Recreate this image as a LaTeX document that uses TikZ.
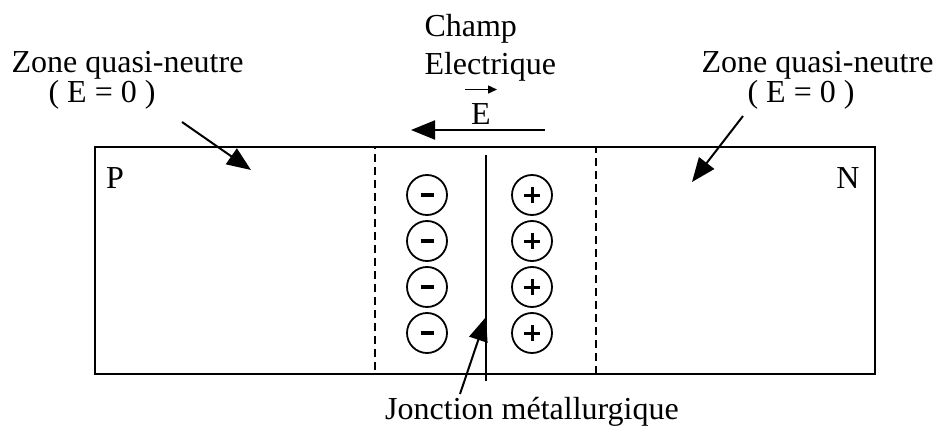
\documentclass[tikz,border=0pt]{standalone}
\usepackage{fontspec}
\setmainfont{Liberation Serif}
\usetikzlibrary{arrows.meta,positioning}

\begin{document}
\begin{tikzpicture}[x=1pt,y=-1pt,
		every node/.style={font=\fontsize{32}{38}\selectfont},
		zone/.style={draw,line width=2pt,minimum width=780pt,minimum height=227pt,inner sep=0pt},
		zce/.style={draw,line width=1.8pt,dash pattern=on 8pt off 5pt,minimum width=221pt,minimum height=227pt,inner sep=0pt},
		charge/.style={draw,circle,line width=1.8pt,minimum size=40pt,inner sep=0pt},
		signe/.style={line width=3pt},
		fleche/.style={-{Triangle[length=24pt,width=19pt]},line width=2pt}
		]
		\useasboundingbox (0,0) rectangle (940,433);
		% barreau P-N et zone de charge d'espace
		\node[zone] (barreau) at (485,260.5) {};
		\node[zce] (zce) at (485.5,260.5) {};
		\node[anchor=base] (P) at (115,189) {P};
		\node[anchor=base] (N) at (848,189) {N};
		\foreach \i in {1,...,4}{
			\node[charge] (moins\i) at (427,{195+46*(\i-1)}) {};
			\node[charge] (plus\i) at (532,{195+46*(\i-1)}) {};
			\draw[signe,line width=4pt] ([xshift=-6.5pt]moins\i.center) -- ([xshift=6.5pt]moins\i.center);
			\draw[signe] ([xshift=-8pt]plus\i.center) -- ([xshift=8pt]plus\i.center);
			\draw[signe] ([yshift=-8pt]plus\i.center) -- ([yshift=8pt]plus\i.center);
		}
		\coordinate (jhaut) at (486,155);
		\coordinate (jbas) at (486,381);
		\draw[line width=1.8pt] (jhaut) -- (jbas);
		% champ electrique
		\node[anchor=base west,align=left] (champ) at (421,75) {Champ\\Electrique};
		\node[anchor=base] (E) at (481,125) {E};
		\draw[-{Triangle[length=9pt,width=8pt]},line width=1.5pt] ([xshift=-16pt,yshift=11pt]E.north) -- ([xshift=16pt,yshift=11pt]E.north);
		\coordinate (Edebut) at (545,130);
		\coordinate (Efin) at (411,130);
		\draw[fleche] (Edebut) -- (Efin);
		% zones quasi-neutres
		\node[anchor=base west] (zqnP) at (8,73) {Zone quasi-neutre};
		\node[anchor=base] (eP) at (102,103) {( E = 0 )};
		\node[anchor=base east] (zqnN) at (937,73) {Zone quasi-neutre};
		\node[anchor=base] (eN) at (801,103) {( E = 0 )};
		\coordinate (pointeP) at (251,170);
		\coordinate (pointeN) at (692,182);
		\draw[fleche] (182,122) -- (pointeP);
		\draw[fleche] (743,116) -- (pointeN);
		% jonction metallurgique
		\node[anchor=base] (jonction) at (532,419) {Jonction métallurgique};
		\coordinate (jpointe) at (486,317);
		\draw[fleche] (460,394) -- (jpointe);
	\end{tikzpicture}
\end{document}
